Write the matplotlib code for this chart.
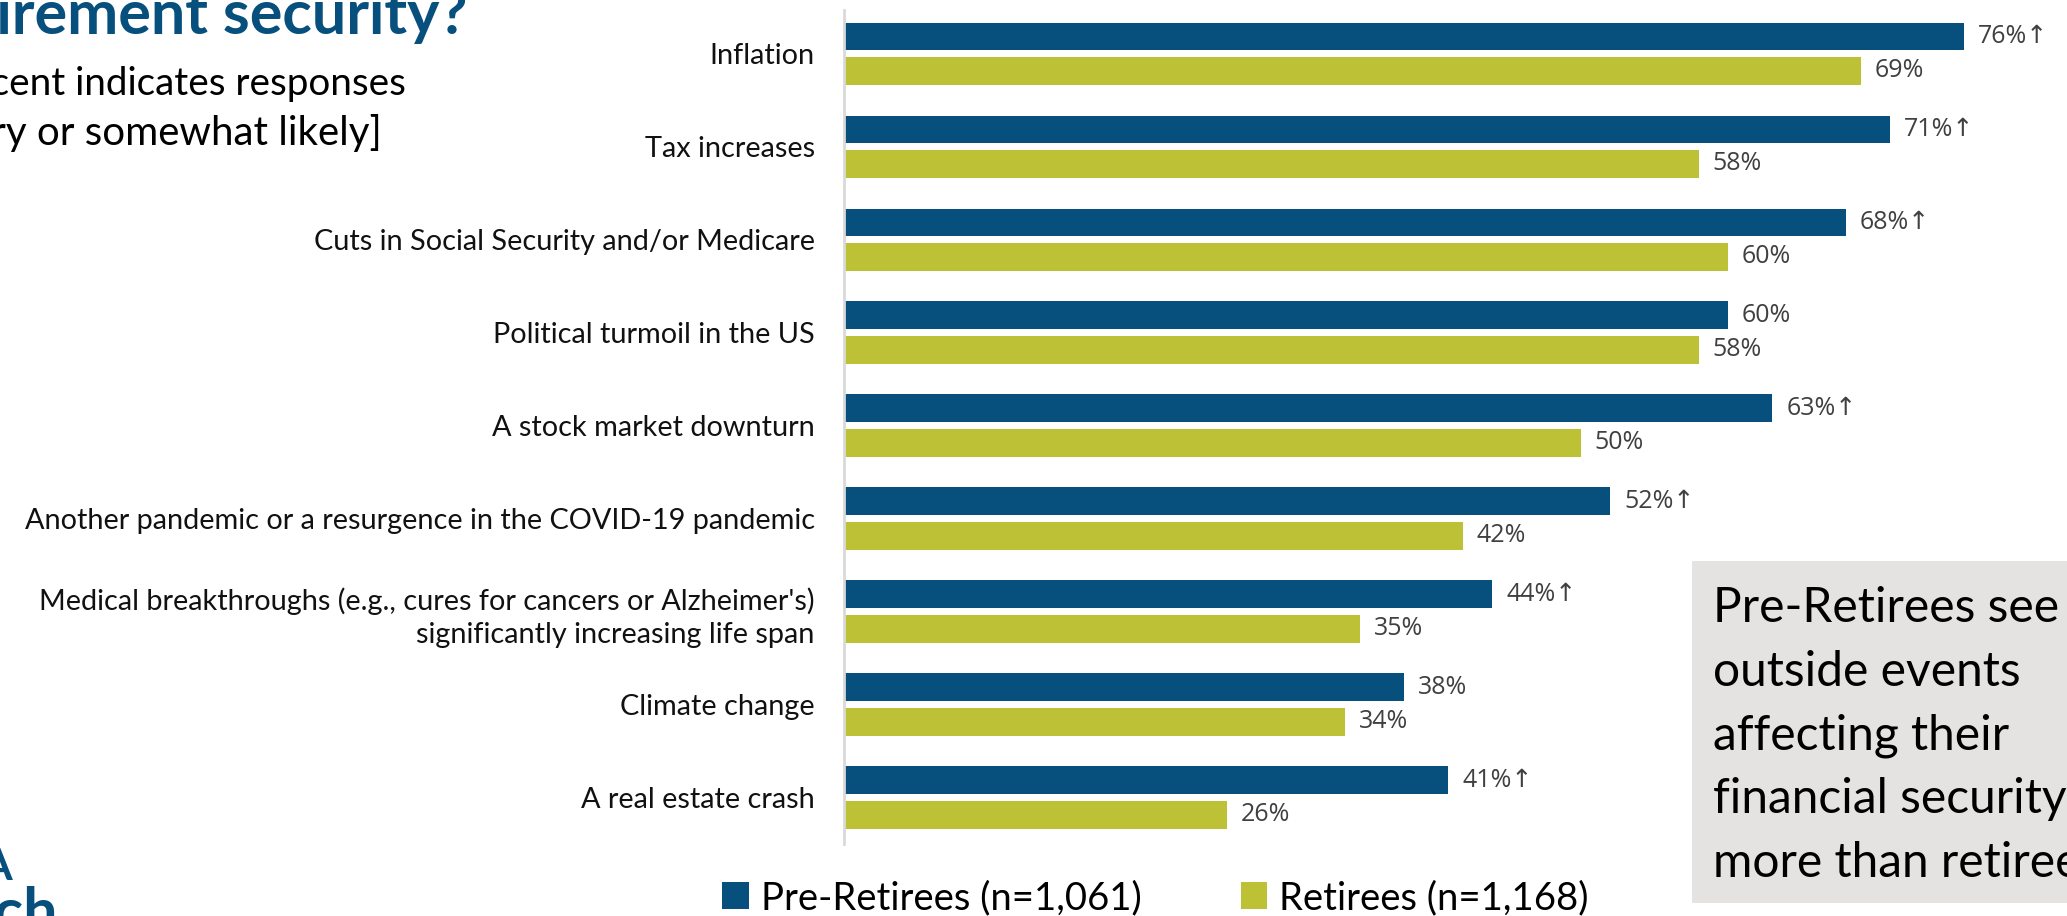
import matplotlib
matplotlib.use('Agg')
import matplotlib.pyplot as plt
from matplotlib.patches import Rectangle
import numpy as np

# --- Data ---
categories = [
    "Inflation",
    "Tax increases",
    "Cuts in Social Security and/or Medicare",
    "Political turmoil in the US",
    "A stock market downturn",
    "Another pandemic or a resurgence in the COVID-19 pandemic",
    "Medical breakthroughs (e.g., cures for cancers or Alzheimer's)\nsignificantly increasing life span",
    "Climate change",
    "A real estate crash",
]
pre_retirees = [76, 71, 68, 60, 63, 52, 44, 38, 41]
retirees = [69, 58, 60, 58, 50, 42, 35, 34, 26]
pre_sig = [True, True, True, False, True, True, True, False, True]

series_names = ["Pre-Retirees (n=1,061)", "Retirees (n=1,168)"]
title_text = "How likely are these to affect your retirement security?"
subtitle_lines = ["[Percent indicates responses", "of very or somewhat likely]"]
callout_lines = ["Pre-Retirees see", "outside events", "affecting their",
                 "financial security", "more than retirees"]

# --- Style ---
BLUE = '#074F7D'
GREEN = '#BDC136'
GRAY_TXT = '#404040'
W, H = 2067, 916


def fx(px):
    return px / W


def fy(py):
    return 1 - py / H


fig = plt.figure(figsize=(W / 100, H / 100), dpi=100)
fig.patch.set_facecolor('white')

ax = fig.add_axes([fx(844), fy(844), fx(2067) - fx(844), (844 - 10) / H])

y = np.arange(len(categories))
off = 0.185
bh = 0.30
ax.barh(y - off, pre_retirees, height=bh, color=BLUE, label=series_names[0])
ax.barh(y + off, retirees, height=bh, color=GREEN, label=series_names[1])

ax.set_xlim(0, 83)
ax.set_ylim(8.5, -0.47)

val_font = ['Open Sans', 'DejaVu Sans']
for i in range(len(categories)):
    lab = f"{pre_retirees[i]}%" + ("\u2191" if pre_sig[i] else "")
    ax.annotate(lab, (pre_retirees[i], y[i] - off), xytext=(10, 0),
                textcoords='offset points', va='center', ha='left',
                fontsize=18, color=GRAY_TXT, family=val_font)
    ax.annotate(f"{retirees[i]}%", (retirees[i], y[i] + off), xytext=(10, 0),
                textcoords='offset points', va='center', ha='left',
                fontsize=18, color=GRAY_TXT, family=val_font)

ax.set_yticks(y)
ax.set_yticklabels(categories, fontsize=20.8, family='Lato',
                   color='#111111', ha='right', linespacing=1.35)
ax.tick_params(axis='y', length=0, pad=21)
ax.set_xticks([])
for s in ['top', 'right', 'bottom']:
    ax.spines[s].set_visible(False)
ax.spines['left'].set_color('#d9d9d9')
ax.spines['left'].set_linewidth(2)

# title / subtitle (cut off on the left in the original slide)
fig.text(fx(468), fy(34), title_text, ha='right', va='baseline', fontsize=44,
         fontweight='bold', color=BLUE, family='Lato')
fig.text(fx(406), fy(95), subtitle_lines[0], ha='right', va='baseline',
         fontsize=27.8, color='black', family='Lato')
fig.text(fx(382), fy(145), subtitle_lines[1], ha='right', va='baseline',
         fontsize=29, color='black', family='Lato')

# logo fragment bottom-left
fig.text(fx(13), fy(880), "RA", ha='right', va='baseline', fontsize=32,
         fontweight='bold', color=BLUE, family='Lato')
fig.text(fx(58), fy(932), "research", ha='right', va='baseline', fontsize=44,
         fontweight='bold', color=BLUE, family='Lato')

# legend
handles, labels = ax.get_legend_handles_labels()
fig.legend(handles, labels, loc='center left', bbox_to_anchor=(fx(688), fy(898)),
           ncol=2, frameon=False, handlelength=0.7, handleheight=0.7,
           handletextpad=0.3, columnspacing=2.6,
           prop={'family': 'Lato', 'size': 27.5})

# callout box
box = Rectangle((fx(1692), fy(903)), fx(2067) - fx(1692) + 0.01, (903 - 561) / H,
                transform=fig.transFigure, facecolor='#E4E3E1', edgecolor='none',
                zorder=5)
fig.add_artist(box)
for k, line in enumerate(callout_lines):
    fig.text(fx(1713), fy(622 + k * 63.7), line, ha='left', va='baseline',
             fontsize=34.5, color='black', family='Lato', zorder=6)

fig.savefig('out.png', dpi=100)
